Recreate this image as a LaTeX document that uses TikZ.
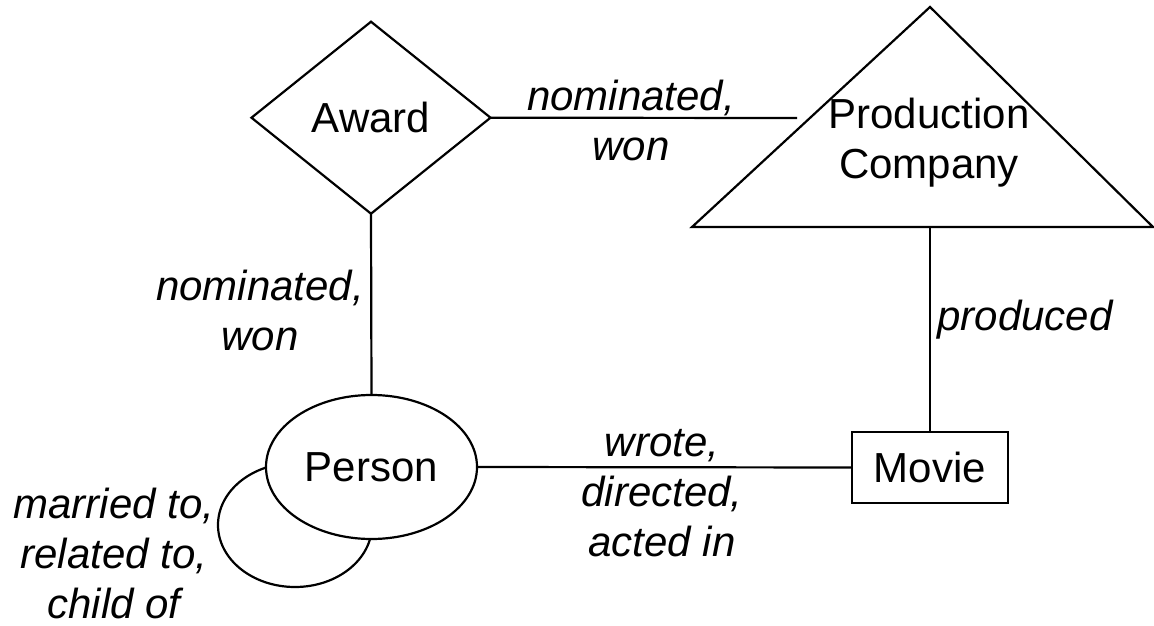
\documentclass[tikz,border=0pt]{standalone}
\usepackage{fontspec}
\setmainfont{Liberation Sans}
\usetikzlibrary{shapes.geometric}
\begin{document}
\begin{tikzpicture}[x=1pt,y=-1pt,
  line width=2.2pt,
  every node/.style={font=\fontsize{42}{50}\selectfont, inner sep=0pt, outer sep=0pt},
  entity/.style={draw, fill=white},
  rel/.style={font=\fontsize{42}{50}\selectfont\itshape, align=center, anchor=base},
  link/.style={draw, line width=2.2pt}]
\useasboundingbox (0,0) rectangle (1154,626);

% self relation loop of Person, partly hidden behind the ellipse
\draw[fill=white] (295,525) ellipse [x radius=77, y radius=62];

% entities
\node[entity, diamond, minimum width=239pt, minimum height=192pt] (award) at (371,117.7) {Award};
\node[entity, ellipse, minimum width=211pt, minimum height=144pt] (person) at (371.5,467) {Person};
\node[entity, rectangle, minimum width=156pt, minimum height=71pt] (movie) at (930,467.5) {Movie};

% production company triangle
\coordinate (pctop) at (930,7);
\coordinate (pcbl) at (692,227);
\coordinate (pcbr) at (1153,227);
\coordinate (pcbase) at (930,227);
\coordinate (pcleft) at (797,118);
\draw[line join=miter] (pctop) -- (pcbl) -- (pcbr) -- cycle;
\node[align=center, anchor=base] (pc) at (929,178) {Production\\Company};

% connectors
\draw[link] (award.east) -- (pcleft);
\draw[link] (award.south) -- (person.north);
\draw[link] (pcbase) -- (movie.north);
\draw[link] (person.east) -- (movie.west);

% relationship labels (anchored at the baseline of the last line)
\node[rel] (lawpc) at (631,160.7) {nominated,\\won};
\node[rel] (lawpe) at (260,350) {nominated,\\won};
\node[rel] (lprod) at (1025,330) {produced};
\node[rel] (lwrote) at (662,556) {wrote,\\directed,\\acted in};
\node[rel] (lself) at (114,618) {married to,\\related to,\\child of};
\end{tikzpicture}
\end{document}
